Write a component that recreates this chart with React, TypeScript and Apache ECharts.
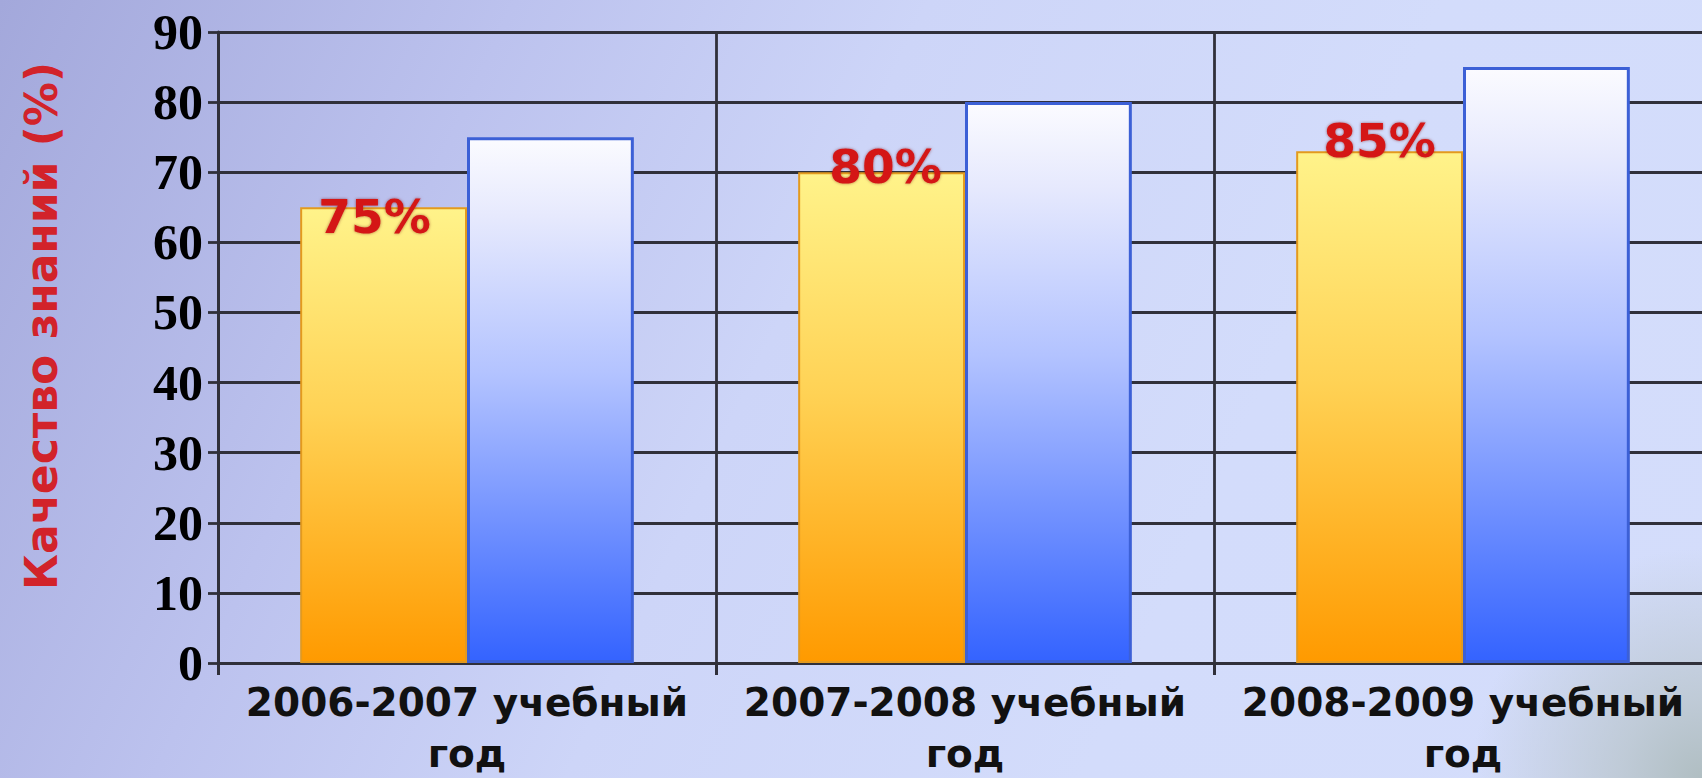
import React, { useEffect, useRef } from "react";
import * as echarts from "echarts";

const categories = [
  "2006-2007 учебный\nгод",
  "2007-2008 учебный\nгод",
  "2008-2009 учебный\nгод",
];
const orangeValues = [65, 70, 73];
const blueValues = [75, 80, 85];
const orangeLabels = ["75%", "80%", "85%"];
const labelOffsets = [
  [-9, -14],
  [4, -29],
  [0, -34],
];
const yAxisTitle = "Качество знаний (%)";
const yMin = 0;
const yMax = 90;
const yStep = 10;

export default function App() {
  const ref = useRef<HTMLDivElement>(null);
  useEffect(() => {
    if (!ref.current) return;
    const chart = echarts.init(ref.current, null, { renderer: "svg" });
    const gridColor = "#30303a";
    chart.setOption({
      animation: false,
      backgroundColor: "transparent",
      grid: {
        left: 218,
        right: -10,
        top: 32,
        bottom: 115,
        containLabel: false,
        outerBoundsMode: "none",
      },
      graphic: [
        {
          type: "text",
          x: 41,
          y: 326,
          rotation: Math.PI / 2,
          style: {
            text: yAxisTitle,
            fill: "#d2232a",
            font: "bold 44px 'DejaVu Sans'",
            align: "center",
            verticalAlign: "middle",
          },
        },
      ],
      xAxis: {
        type: "category",
        data: categories,
        boundaryGap: true,
        axisLine: { show: true, lineStyle: { color: gridColor, width: 3 } },
        axisTick: { show: true, length: 12, lineStyle: { color: gridColor, width: 3 } },
        splitLine: { show: true, lineStyle: { color: gridColor, width: 2.8 } },
        axisLabel: {
          color: "#111",
          fontFamily: "'DejaVu Sans'",
          fontWeight: "bold",
          fontSize: 39,
          lineHeight: 51,
          margin: 14,
          interval: 0,
        },
      },
      yAxis: {
        type: "value",
        min: yMin,
        max: yMax,
        interval: yStep,
        axisLine: { show: true, lineStyle: { color: gridColor, width: 3 } },
        axisTick: { show: true, length: 10, lineStyle: { color: gridColor, width: 2.8 } },
        splitLine: { show: true, lineStyle: { color: gridColor, width: 2.8 } },
        axisLabel: {
          color: "#000",
          fontFamily: "'Liberation Serif'",
          fontWeight: "bold",
          fontSize: 50,
          margin: 15,
        },
      },
      series: [
        {
          type: "bar",
          barGap: "0%",
          barCategoryGap: "33%",
          data: orangeValues.map((v, i) => ({
            value: v,
            label: { offset: labelOffsets[i] },
          })),
          itemStyle: {
            borderColor: "#e39a1e",
            borderWidth: 2,
            color: new echarts.graphic.LinearGradient(0, 0, 0, 1, [
              { offset: 0, color: "#fff38a" },
              { offset: 0.45, color: "#ffd255" },
              { offset: 1, color: "#ff9a00" },
            ]),
          },
          label: {
            show: true,
            position: "insideTop",
            distance: 0,
            formatter: (p: any) => orangeLabels[p.dataIndex],
            color: "#d41414",
            fontFamily: "'DejaVu Sans'",
            fontWeight: "bold",
            fontSize: 47,
            textShadowColor: "rgba(110,0,0,0.55)",
            textShadowBlur: 3,
          },
        },
        {
          type: "bar",
          data: blueValues,
          itemStyle: {
            borderColor: "#3c60d6",
            borderWidth: 3,
            color: new echarts.graphic.LinearGradient(0, 0, 0, 1, [
              { offset: 0, color: "#fbfbff" },
              { offset: 0.15, color: "#e6e9fd" },
              { offset: 0.45, color: "#b3c3ff" },
              { offset: 1, color: "#3463ff" },
            ]),
          },
        },
      ],
    });
    return () => chart.dispose();
  }, []);

  return (
    <div
      style={{
        position: "fixed",
        left: 0,
        top: 0,
        width: 1702,
        height: 778,
        background:
          "radial-gradient(circle at 100% 100%, rgba(176,190,194,1) 0px, rgba(186,198,206,0.8) 80px, rgba(210,220,250,0) 230px), linear-gradient(115deg, #a3a8db 0%, #bcc2ee 25%, #cdd5f8 45%, #d3dcfb 70%, #d4ddfb 100%)",
      }}
    >
      <div ref={ref} style={{ width: 1702, height: 778 }} />
    </div>
  );
}
